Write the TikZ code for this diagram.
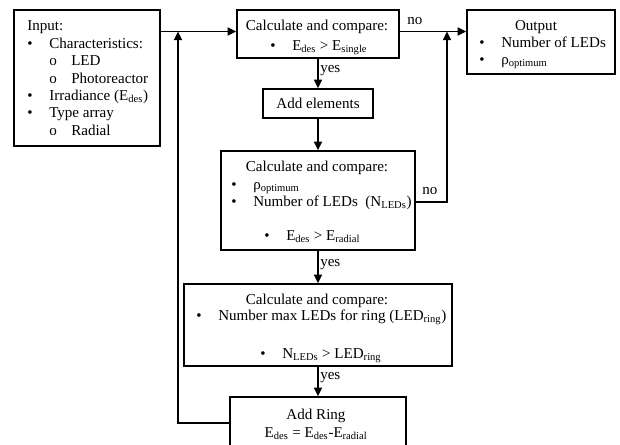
\documentclass[tikz,border=0pt]{standalone}
\usepackage{fontspec}
\setmainfont{Liberation Serif}
\usetikzlibrary{arrows.meta}
\newcommand{\itembul}{\makebox[16.5pt][l]{\textbullet}}
\newcommand{\itemsub}{\makebox[16.5pt][l]{o}}
\tikzset{
  box/.style={draw, line width=1.1pt, inner sep=0pt},
  txt/.style={inner sep=0pt, font=\fontsize{11.3}{12.9}\selectfont},
  arr/.style={line width=1.1pt, -{Triangle[length=6.5pt,width=6pt]}},
  lin/.style={line width=1.1pt},
}
\begin{document}
\begin{tikzpicture}[x=0.75pt, y=-0.75pt]
    \useasboundingbox (0,0) rectangle (620,444);

    % Boxes
    \node[box, minimum width=109.5pt, minimum height=102pt] (input) at (87,78) {};
    \node[box, minimum width=121.5pt, minimum height=36pt] (calcone) at (318,34) {};
    \node[box, minimum width=111pt, minimum height=48pt] (output) at (541,42) {};
    \node[box, minimum width=82.5pt, minimum height=21.75pt] (addel) at (318,103.5) {};
    \node[box, minimum width=145.5pt, minimum height=74.25pt] (calctwo) at (318,200.5) {};
    \node[box, minimum width=201pt, minimum height=61.5pt] (calcthree) at (318,325) {};
    \node[box, minimum width=132pt, minimum height=41.25pt] (addring) at (318,424.5) {};

    % Input text
    \node[txt, font=\fontsize{11.3}{13.1}\selectfont, anchor=north west, align=left] (inputtxt) at (27,20.5)
      {Input:\\
       \itembul Characteristics:\\
       \hspace*{16.5pt}\itemsub LED\\
       \hspace*{16.5pt}\itemsub Photoreactor\\
       \itembul Irradiance (E\textsubscript{des})\\
       \itembul Type array\\
       \hspace*{16.5pt}\itemsub Radial};

    % First compare
    \node[txt, anchor=base] (calconetitle) at (317,30.5) {Calculate and compare:};
    \node[txt, anchor=base west] (calconeitem) at (270,50)
      {\itembul E\textsubscript{des} > E\textsubscript{single}};

    % Output text
    \node[txt, anchor=base] (outputtitle) at (536,30.5) {Output};
    \node[txt, anchor=base west] (outputone) at (479,47.5) {\itembul Number of LEDs};
    \node[txt, anchor=base west] (outputtwo) at (479,64) {\itembul ρ\textsubscript{optimum}};

    % Add elements
    \node[txt, anchor=base] (addeltxt) at (318,108) {Add elements};

    % Second compare
    \node[txt, anchor=base] (calctwotitle) at (317,171.5) {Calculate and compare:};
    \node[txt, anchor=base west] (calctwoone) at (231,189) {\itembul ρ\textsubscript{optimum}};
    \node[txt, anchor=base west] (calctwotwo) at (231,206)
      {\itembul Number of LEDs~ (N\textsubscript{LEDs})};
    \node[txt, anchor=base west] (calctwothree) at (264,240)
      {\itembul E\textsubscript{des} > E\textsubscript{radial}};

    % Third compare
    \node[txt, anchor=base] (calcthreetitle) at (317,304.5) {Calculate and compare:};
    \node[txt, anchor=base west] (calcthreeone) at (196,320)
      {\itembul Number max LEDs for ring (LED\textsubscript{ring})};
    \node[txt, anchor=base west] (calcthreetwo) at (260,358)
      {\itembul N\textsubscript{LEDs} > LED\textsubscript{ring}};

    % Add ring
    \node[txt, anchor=base] (addringone) at (316,419.5) {Add Ring};
    \node[txt, anchor=base] (addringtwo) at (316,437.5)
      {E\textsubscript{des} = E\textsubscript{des}-E\textsubscript{radial}};

    % Labels
    \node[txt, anchor=base west] (noone) at (407,24.5) {no};
    \node[txt, anchor=base west] (notwo) at (422,194.5) {no};
    \node[txt, anchor=base west] (yesone) at (320,72.5) {yes};
    \node[txt, anchor=base west] (yestwo) at (320,266.5) {yes};
    \node[txt, anchor=base west] (yesthree) at (320,379.5) {yes};

    % Loop points
    \coordinate (top) at (0,31.5);
    \coordinate (lefttop) at (178,31.5);
    \coordinate (leftbot) at (178,423);
    \coordinate (righttop) at (447,31.5);
    \coordinate (rightbot) at (447,202);

    % Arrows
    \draw[lin] (input.east |- top) -- (lefttop);
    \draw[arr] (lefttop) -- (calcone.west |- top);
    \draw[lin] (calcone.east |- top) -- (righttop);
    \draw[arr] (righttop) -- (output.west |- top);
    \draw[arr] (calcone) -- (addel);
    \draw[arr] (addel) -- (calctwo);
    \draw[arr] (calctwo) -- (calcthree);
    \draw[arr] (calcthree) -- (addring);
    \draw[arr] (calctwo.east |- rightbot) -- (rightbot) -- (righttop);
    \draw[arr] (addring.west |- leftbot) -- (leftbot) -- (lefttop);
\end{tikzpicture}
\end{document}
